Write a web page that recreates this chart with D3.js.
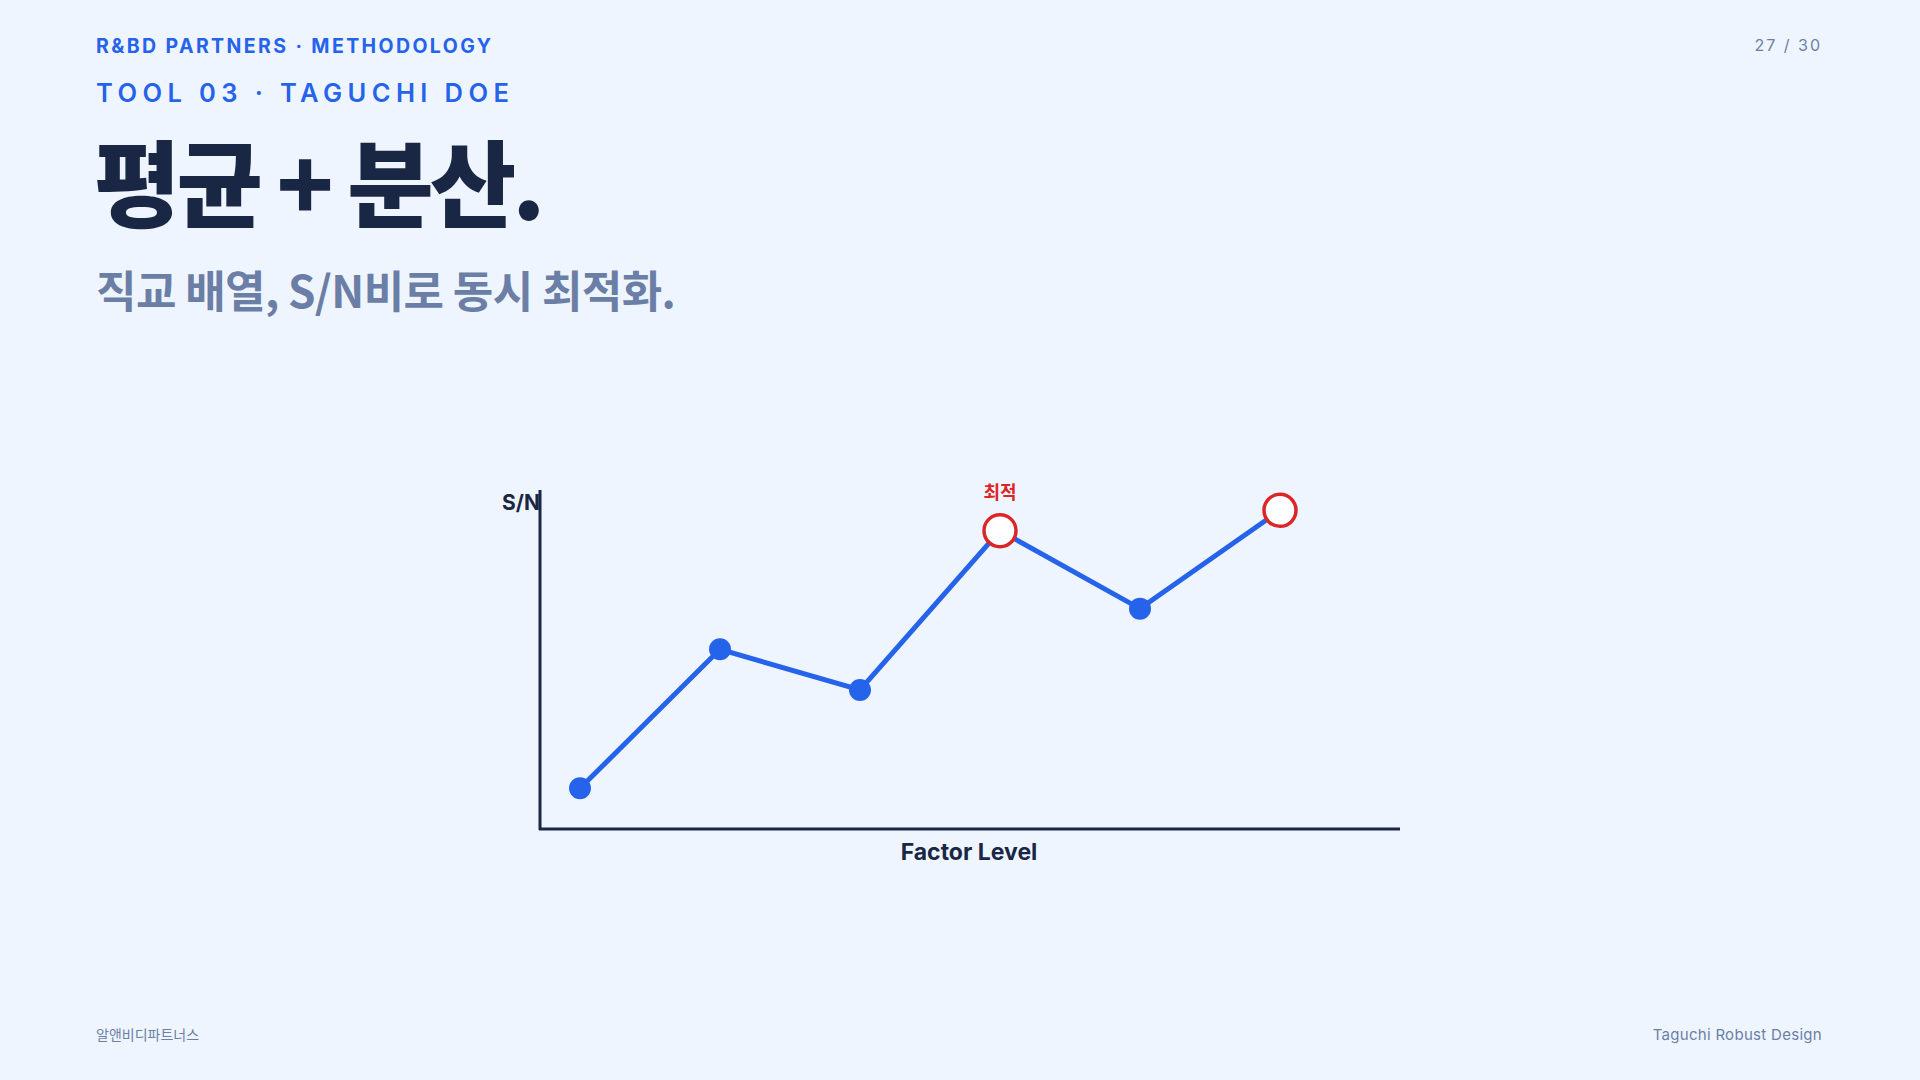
<!DOCTYPE html>
<html><head><meta charset="utf-8">
<script src="https://cdn.jsdelivr.net/npm/d3@7"></script>
<style>body{margin:0;background:#eff5ff;}svg{display:block;}</style>
</head><body>
<svg id="c" width="1920" height="1080"></svg>
<script>
const levels = [1,2,3,4,5,6];
const snValues = [12, 53, 41, 88, 65, 94];
const optimal = [false,false,false,true,false,true];
const svg = d3.select("#c");
svg.append("rect").attr("width",1920).attr("height",1080).attr("fill","#eff5ff");
const sans = "Inter, 'Noto Sans CJK KR', sans-serif";
const kr = "'Noto Sans CJK KR', sans-serif";
function t(x,y,s,o){const e=svg.append("text").attr("x",x).attr("y",y).text(s);for(const k in o)e.attr(k,o[k]);return e;}
t(96,53,"R&BD PARTNERS · METHODOLOGY",{"font-family":sans,"font-size":19.5,"font-weight":700,fill:"#2563eb","letter-spacing":2.4});
t(96,102,"TOOL 03 · TAGUCHI DOE",{"font-family":sans,"font-size":25.5,"font-weight":600,fill:"#2563eb","letter-spacing":5.4});
t(1822,51,"27 / 30",{"font-family":sans,"font-size":16,fill:"#6b7fa6","text-anchor":"end","letter-spacing":2});
t(94,220,"평균 + 분산.",{"font-family":kr,"font-size":94,"font-weight":900,fill:"#1a2744","letter-spacing":-4});
t(96,308,"직교 배열, S/N비로 동시 최적화.",{"font-family":kr,"font-size":44,"font-weight":700,fill:"#6b7fa6","letter-spacing":-0.6});
t(96,1040,"알앤비디파트너스",{"font-family":kr,"font-size":14,fill:"#6b7fa6"});
t(1822,1040,"Taguchi Robust Design",{"font-family":sans,"font-size":15,fill:"#6b7fa6","text-anchor":"end","letter-spacing":0.3});

const x = d3.scaleLinear().domain([1,6]).range([580,1280]);
const y = d3.scaleLinear().domain([0,100]).range([829,490]);
const ax = "#1a2744";
svg.append("line").attr("x1",540).attr("x2",540).attr("y1",490).attr("y2",830).attr("stroke",ax).attr("stroke-width",3);
svg.append("line").attr("x1",539).attr("x2",1400).attr("y1",829).attr("y2",829).attr("stroke",ax).attr("stroke-width",3);
t(540,510,"S/N",{"font-family":sans,"font-size":21,"font-weight":700,fill:ax,"text-anchor":"end"});
t(969,860,"Factor Level",{"font-family":sans,"font-size":23,"font-weight":700,fill:ax,"text-anchor":"middle"});
const data = levels.map((l,i)=>({l,v:snValues[i],o:optimal[i]}));
svg.append("path").datum(data).attr("d",d3.line().x(d=>x(d.l)).y(d=>y(d.v)))
  .attr("fill","none").attr("stroke","#2563eb").attr("stroke-width",5);
svg.selectAll("circle.p").data(data).join("circle")
  .attr("cx",d=>x(d.l)).attr("cy",d=>y(d.v)).attr("r",d=>d.o?16:11)
  .attr("fill",d=>d.o?"#ffffff":"#2563eb").attr("stroke",d=>d.o?"#dc2626":"none").attr("stroke-width",3.5);
t(x(4),499,"최적",{"font-family":kr,"font-size":18,"font-weight":700,fill:"#dc2626","text-anchor":"middle"});
</script></body></html>
